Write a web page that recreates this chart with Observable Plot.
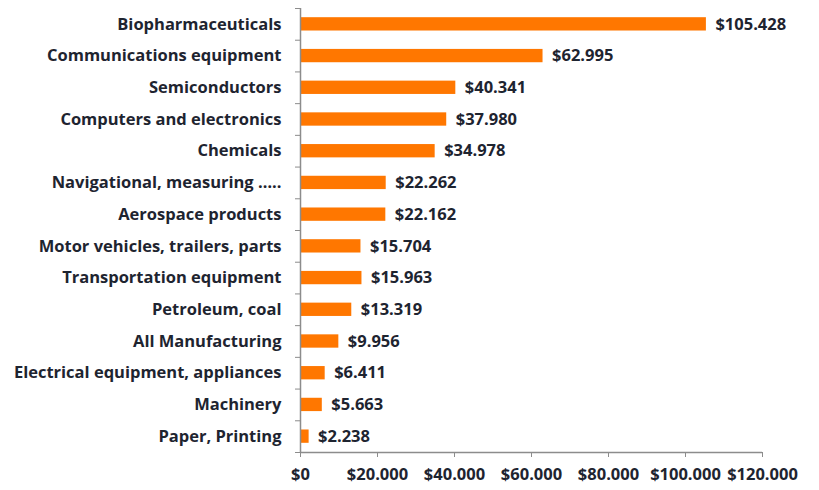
<!DOCTYPE html>
<html><head><meta charset="utf-8">
<script src="https://cdn.jsdelivr.net/npm/d3@7"></script>
<script src="https://cdn.jsdelivr.net/npm/@observablehq/plot@0.6"></script>
<style>body{margin:0;background:#fff}</style>
</head><body><div id="chart"></div>
<script>
const categories = [
  "Biopharmaceuticals",
  "Communications equipment",
  "Semiconductors",
  "Computers and electronics",
  "Chemicals",
  "Navigational, measuring …..",
  "Aerospace products",
  "Motor vehicles, trailers, parts",
  "Transportation equipment",
  "Petroleum, coal",
  "All Manufacturing",
  "Electrical equipment, appliances",
  "Machinery",
  "Paper, Printing"
];
const values = [105428, 62995, 40341, 37980, 34978, 22262, 22162, 15704, 15963, 13319, 9956, 6411, 5663, 2238];
const xTicks = [0, 20000, 40000, 60000, 80000, 100000, 120000];

const locale = d3.formatLocale({decimal: ",", thousands: ".", grouping: [3], currency: ["$", ""]});
const fmt = locale.format("$,");
const data = categories.map((c, i) => ({category: c, value: values[i], i}));
const idx = categories.map((_, i) => i);
const bounds = d3.range(categories.length + 1).map(i => i - 0.5);
const textColor = "#1e2430";
const axisColor = "#8c8c8c";

const chart = Plot.plot({
  width: 819, height: 490,
  marginLeft: 300, marginRight: 57, marginTop: 8, marginBottom: 38,
  style: {fontFamily: "'Open Sans', sans-serif", fontSize: "16.5px", fontWeight: "700", background: "#fff", color: textColor},
  x: {domain: [0, 120000]},
  y: {domain: [-0.5, categories.length - 0.5], reverse: true},
  marks: [
    Plot.rect(data, {x1: () => 0, x2: "value", y1: d => d.i - 0.21, y2: d => d.i + 0.21, fill: "#ff7700"}),
    Plot.text(data, {x: "value", y: "i", text: d => fmt(d.value), textAnchor: "start", dx: 9, fill: textColor, fontWeight: "700", fontSize: 16.5}),
    Plot.axisY({ticks: idx, tickFormat: i => categories[i], tickSize: 0, tickPadding: 19, label: null, fill: textColor}),
    Plot.axisY({ticks: bounds, tickFormat: () => "", tickSize: 5, label: null, stroke: axisColor}),
    Plot.axisX({ticks: xTicks, tickFormat: fmt, tickSize: 5, tickPadding: 11, label: null, stroke: axisColor, fill: textColor}),
    Plot.ruleX([0], {stroke: axisColor, strokeWidth: 1.5}),
    Plot.ruleY([categories.length - 0.5], {stroke: axisColor, strokeWidth: 1.5})
  ]
});
document.getElementById("chart").appendChild(chart);
</script>
</body></html>
